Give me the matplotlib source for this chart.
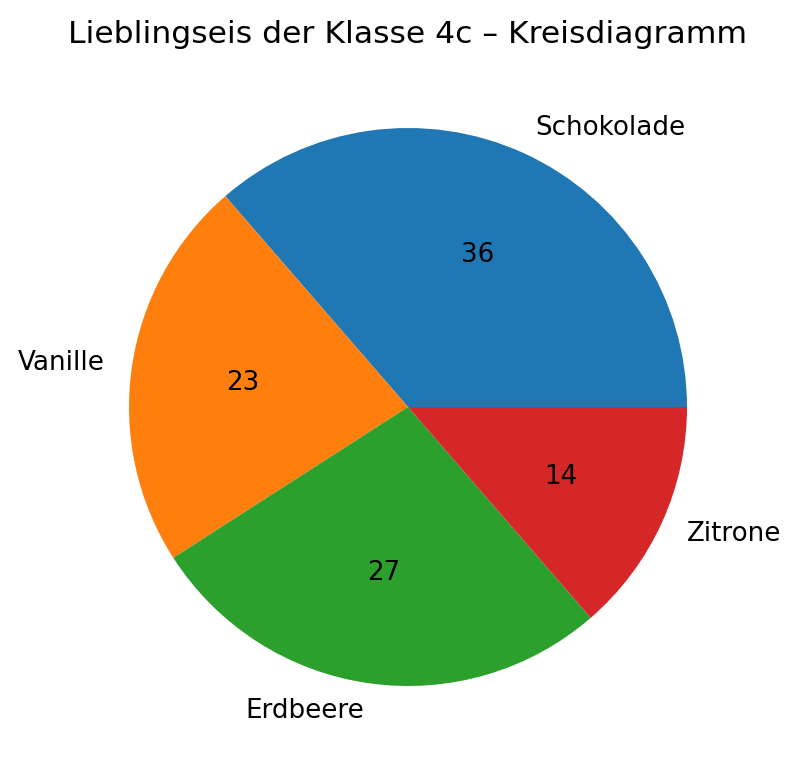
import matplotlib
matplotlib.use("Agg")
import matplotlib.pyplot as plt

labels = ["Schokolade", "Vanille", "Erdbeere", "Zitrone"]
values = [8, 5, 6, 3]
title = "Lieblingseis der Klasse 4c – Kreisdiagramm"

DPI = 188
W, H = 800, 774
fig = plt.figure(figsize=(W / DPI, H / DPI), dpi=DPI)
R = 279
cx, cy = 408, H - 407
side = 2.5 * R
ax = fig.add_axes([(cx - side / 2) / W, (cy - side / 2) / H, side / W, side / H])
ax.pie(values, labels=labels, autopct="%.0f")
ax.set_title(title)
fig.savefig("out.png", dpi=DPI)
